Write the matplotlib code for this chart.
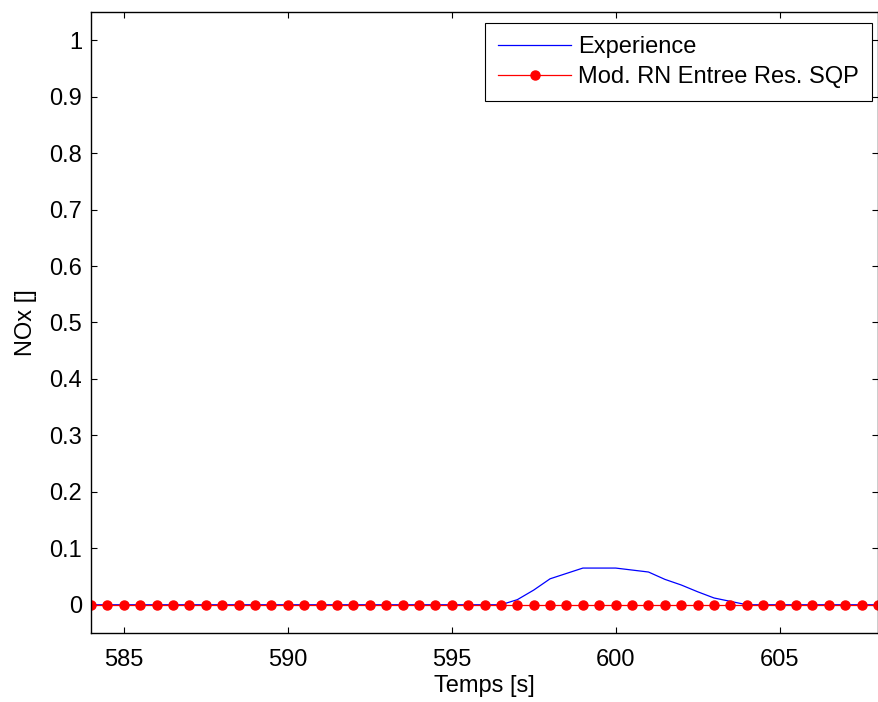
import numpy as np
import matplotlib
matplotlib.use('Agg')
import matplotlib.pyplot as plt

plt.rcParams['font.family'] = ['Liberation Sans', 'DejaVu Sans']

# experimental curve (time, NOx)
t_exp = [584, 596.5, 597, 597.5, 598, 599, 600, 601, 601.5, 602, 602.5, 603, 604, 608]
nox_exp = [0, 0, 0.009, 0.026, 0.046, 0.065, 0.065, 0.058, 0.045, 0.035, 0.023, 0.012, 0, 0]

# model output, sampled every 0.5 s
t_mod = np.arange(584, 608.01, 0.5)
nox_mod = np.zeros(len(t_mod))

fs = 17

fig = plt.figure(figsize=(8.79, 7.02), dpi=100)
ax = fig.add_axes([0.1035, 0.0983, 0.8954, 0.8847])

ax.plot(t_exp, nox_exp, color='blue', lw=0.9, label='Experience')
ax.plot(t_mod, nox_mod, color='red', lw=0.9, marker='o', markersize=6.5,
        label='Mod. RN Entree Res. SQP')

ax.set_xlim(584, 608)
ax.set_ylim(-0.05, 1.05)
ax.set_xticks([585, 590, 595, 600, 605])
ax.set_yticks(np.arange(0, 1.01, 0.1))
ax.set_yticklabels(['0', '0.1', '0.2', '0.3', '0.4', '0.5', '0.6', '0.7', '0.8', '0.9', '1'])
ax.tick_params(direction='in', top=True, right=True, labelsize=fs, length=4)
ax.tick_params(axis='x', pad=11.5)
ax.tick_params(axis='y', pad=6.5)
for s in ax.spines.values():
    s.set_linewidth(1.0)
ax.set_xlabel('Temps [s]', fontsize=fs, labelpad=3)
ax.set_ylabel('NOx []', fontsize=fs, labelpad=9)

leg = ax.legend(loc='upper right', bbox_to_anchor=(0.9924, 0.9823), borderaxespad=0,
                fontsize=fs, fancybox=False, framealpha=1, edgecolor='black',
                handlelength=3.1, handletextpad=0.3, labelspacing=0.35, borderpad=0.55)
leg.get_frame().set_linewidth(0.8)

fig.savefig('out.png', dpi=100)
